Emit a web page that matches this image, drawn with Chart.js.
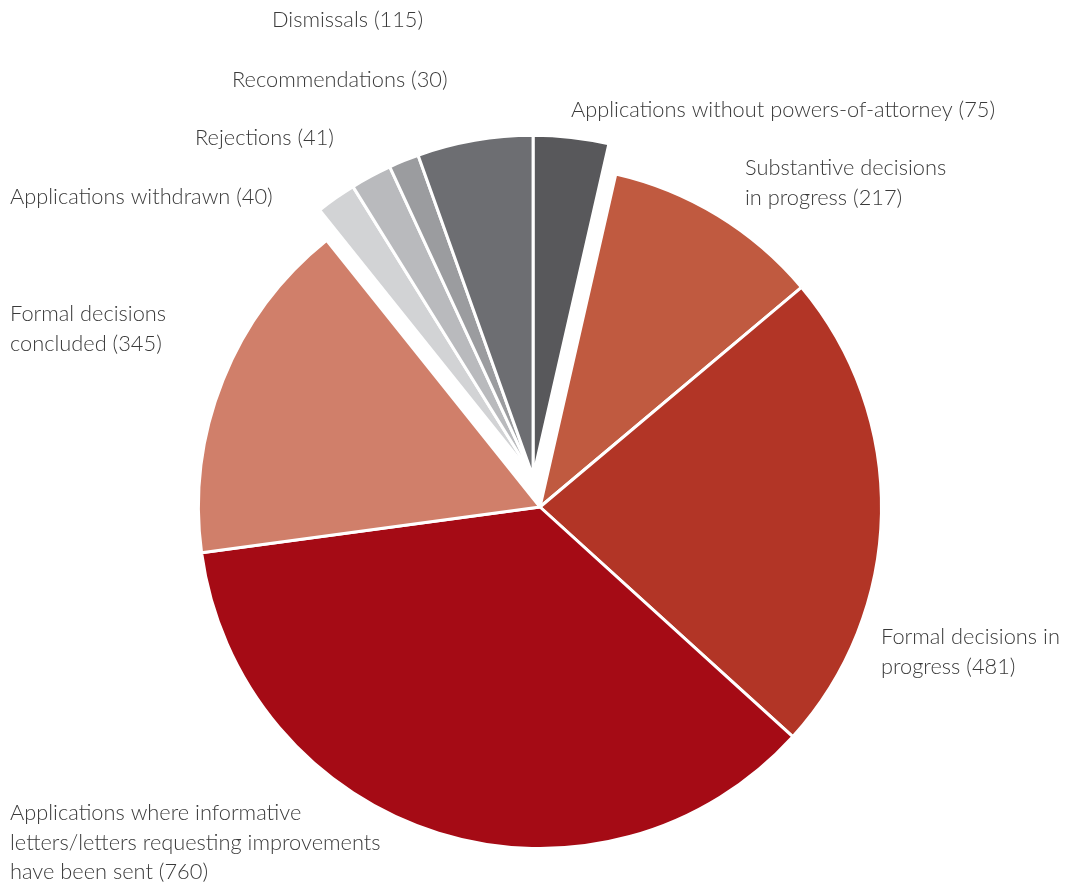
<!DOCTYPE html>
<html>
<head>
<meta charset="utf-8">
<script src="https://cdn.jsdelivr.net/npm/chart.js@4.4.1/dist/chart.umd.min.js"></script>
<style>
  html, body { margin: 0; padding: 0; background: #ffffff; }
  #wrap { width: 1075px; height: 885px; position: relative; }
</style>
</head>
<body>
<div id="wrap"><canvas id="pieChart"></canvas></div>
<script>
// Data, clockwise from the top
const categories = [
    'Applications without powers-of-attorney',
    'Substantive decisions in progress',
    'Formal decisions in progress',
    'Applications where informative letters/letters requesting improvements have been sent',
    'Formal decisions concluded',
    'Applications withdrawn',
    'Rejections',
    'Recommendations',
    'Dismissals'
];
const values = [75, 217, 481, 760, 345, 40, 41, 30, 115];

// label text as it is broken over lines in the picture
const labelLines = [
    ['Applications without powers-of-attorney (75)'],
    ['Substantive decisions', 'in progress (217)'],
    ['Formal decisions in', 'progress (481)'],
    ['Applications where informative', 'letters/letters requesting improvements', 'have been sent (760)'],
    ['Formal decisions', 'concluded (345)'],
    ['Applications withdrawn (40)'],
    ['Rejections (41)'],
    ['Recommendations (30)'],
    ['Dismissals (115)']
];

// styling / layout
const sliceColors = ['#58585b', '#c05a40', '#b23526', '#a50b15', '#d07f6a', '#d2d3d5', '#b9babd', '#9b9c9f', '#6d6e72'];
const explodedSlices = [5, 6, 7, 8, 0]; // grey group, pulled out together
const explodeDistance = 31;
const labelAnchors = [
    [571, 110], [745, 168], [881, 637], [10, 813], [10, 314],
    [10, 197], [195, 138], [232, 80], [272, 20]
];
const lineHeight = 29.5;

const groupExplode = {
    id: 'groupExplode',
    beforeDatasetDraw(chart, args) {
        const ctx = chart.ctx;
        const arcs = args.meta.data;
        const first = arcs[explodedSlices[0]];
        const last = arcs[explodedSlices[explodedSlices.length - 1]];
        let start = first.startAngle;
        let end = last.endAngle;
        if (end < start) end += Math.PI * 2;
        const mid = (start + end) / 2;
        const dx = Math.cos(mid) * explodeDistance;
        const dy = Math.sin(mid) * explodeDistance;
        arcs.forEach((arc, i) => {
            ctx.save();
            if (explodedSlices.includes(i)) ctx.translate(dx, dy);
            arc.draw(ctx, chart.chartArea);
            ctx.restore();
        });
        return false;
    }
};

const outsideLabels = {
    id: 'outsideLabels',
    afterDraw(chart) {
        const ctx = chart.ctx;
        ctx.save();
        ctx.fillStyle = '#3a3a3a';
        ctx.font = '300 21.8px Lato, "Open Sans", sans-serif';
        ctx.textAlign = 'left';
        ctx.textBaseline = 'middle';
        labelLines.forEach((lines, i) => {
            const [x, y] = labelAnchors[i];
            lines.forEach((line, j) => ctx.fillText(line, x, y + j * lineHeight));
        });
        ctx.restore();
    }
};

new Chart(document.getElementById('pieChart'), {
    type: 'pie',
    data: {
        labels: categories,
        datasets: [{
            data: values,
            backgroundColor: sliceColors,
            borderColor: '#ffffff',
            borderWidth: 3
        }]
    },
    options: {
        responsive: true,
        maintainAspectRatio: false,
        animation: false,
        layout: {
            padding: { left: 197, right: 192, top: 164, bottom: 35 }
        },
        plugins: {
            legend: { display: false },
            tooltip: { enabled: false }
        }
    },
    plugins: [groupExplode, outsideLabels]
});
</script>
</body>
</html>
